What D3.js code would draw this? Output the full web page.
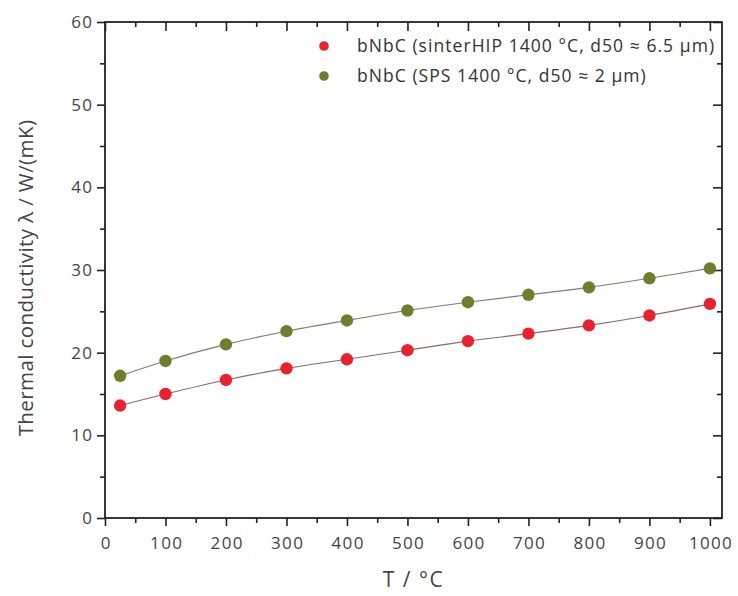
<!DOCTYPE html>
<html>
<head>
<meta charset="utf-8">
<script src="https://cdn.jsdelivr.net/npm/d3@7"></script>
<style>
  html, body { margin: 0; padding: 0; background: #fff; }
  svg text { font-family: "Open Sans", "DejaVu Sans", sans-serif; }
</style>
</head>
<body>
<svg id="chart" width="738" height="596"></svg>
<script>
// Temperatures (°C) at which conductivity was measured
const temperatures = [25, 100, 200, 300, 400, 500, 600, 700, 800, 900, 1000];
// Thermal conductivity λ in W/(mK)
const sinterHIP = [13.6, 15.0, 16.7, 18.1, 19.2, 20.3, 21.4, 22.3, 23.3, 24.5, 25.9];
const sps       = [17.2, 19.0, 21.0, 22.6, 23.9, 25.1, 26.1, 27.0, 27.9, 29.0, 30.2];

const seriesNames = [
  "bNbC (sinterHIP 1400 °C, d50 ≈ 6.5 µm)",
  "bNbC (SPS 1400 °C, d50 ≈ 2 µm)"
];
const seriesColors = ["#e8232f", "#6e7d2e"];

const xTicks = [0, 100, 200, 300, 400, 500, 600, 700, 800, 900, 1000];
const yTicks = [0, 10, 20, 30, 40, 50, 60];
const xTitle = "T / °C";
const yTitle = "Thermal conductivity λ / W/(mK)";

const svg = d3.select("#chart");
const m = { left: 105, right: 722, top: 22, bottom: 518 };

const x = d3.scaleLinear().domain([0, 1020]).range([m.left, m.right]);
const y = d3.scaleLinear().domain([0, 60]).range([m.bottom, m.top]);

const xMinor = d3.range(50, 1020, 100);
const yMinor = d3.range(5, 60, 10);

const axisColor = "#222";
const labelColor = "#444";
const tickSpacing = 1.3;

// bottom axis: outward ticks with labels
const gB = svg.append("g").attr("transform", `translate(0,${m.bottom})`)
  .call(d3.axisBottom(x).tickValues(xTicks).tickSize(8).tickPadding(11).tickFormat(d3.format("d")));
gB.append("g").call(d3.axisBottom(x).tickValues(xMinor).tickSize(5).tickFormat(""));

// left axis: outward ticks with labels
const gL = svg.append("g").attr("transform", `translate(${m.left},0)`)
  .call(d3.axisLeft(y).tickValues(yTicks).tickSize(8).tickPadding(5).tickFormat(d3.format("d")));
gL.append("g").call(d3.axisLeft(y).tickValues(yMinor).tickSize(5).tickFormat(""));

// top axis: inward ticks, no labels
const gT = svg.append("g").attr("transform", `translate(0,${m.top})`)
  .call(d3.axisTop(x).tickValues(xTicks).tickSize(-9).tickFormat(""));
gT.append("g").call(d3.axisTop(x).tickValues(xMinor).tickSize(-5).tickFormat(""));

// right axis: inward ticks, no labels
const gR = svg.append("g").attr("transform", `translate(${m.right},0)`)
  .call(d3.axisRight(y).tickValues(yTicks).tickSize(-9).tickFormat(""));
gR.append("g").call(d3.axisRight(y).tickValues(yMinor).tickSize(-5).tickFormat(""));

[gB, gL, gT, gR].forEach(g => {
  g.selectAll(".domain").remove();
  g.selectAll("line").attr("stroke", axisColor).attr("stroke-width", 1.6);
  g.selectAll("text").attr("fill", labelColor)
    .style("font-size", "17px")
    .style("letter-spacing", tickSpacing + "px");
});
// letter-spacing adds trailing space; recentre the bottom labels
gB.selectAll(".tick text").attr("dx", tickSpacing / 2);
gL.selectAll(".tick text").attr("dx", tickSpacing);

// frame
svg.append("rect")
  .attr("x", m.left).attr("y", m.top)
  .attr("width", m.right - m.left).attr("height", m.bottom - m.top)
  .attr("fill", "none").attr("stroke", axisColor).attr("stroke-width", 1.8);

// axis titles
svg.append("text")
  .attr("x", (x(0) + x(1000)) / 2 + 6).attr("y", 587)
  .attr("text-anchor", "middle").attr("fill", labelColor)
  .style("font-size", "21px").style("letter-spacing", "1.5px")
  .text(xTitle);

svg.append("text")
  .attr("transform", `translate(33,${(m.top + m.bottom) / 2 + 8}) rotate(-90)`)
  .attr("text-anchor", "middle").attr("fill", labelColor)
  .style("font-size", "20.5px").style("letter-spacing", "0.4px")
  .text(yTitle);

// series
const allSeries = [sinterHIP, sps];
const line = d3.line()
  .x((d, i) => x(temperatures[i]))
  .y(d => y(d))
  .curve(d3.curveCatmullRom);

allSeries.forEach((vals, si) => {
  svg.append("path")
    .datum(vals)
    .attr("d", line)
    .attr("fill", "none")
    .attr("stroke", si === 0 ? "#8a6a6a" : "#7a7f70")
    .attr("stroke-width", 1.1);
});

allSeries.forEach((vals, si) => {
  svg.append("g").selectAll("circle")
    .data(vals)
    .join("circle")
    .attr("cx", (d, i) => x(temperatures[i]))
    .attr("cy", d => y(d))
    .attr("r", 6.2)
    .attr("fill", seriesColors[si]);
});

// legend
const legend = svg.append("g");
seriesNames.forEach((name, i) => {
  const ly = 46 + i * 30;
  legend.append("circle")
    .attr("cx", 324).attr("cy", ly).attr("r", 4.8)
    .attr("fill", seriesColors[i]);
  legend.append("text")
    .attr("x", 357).attr("y", ly + 6)
    .attr("fill", "#333")
    .style("font-size", "17.5px")
    .style("letter-spacing", "1.05px")
    .text(name);
});
</script>
</body>
</html>
